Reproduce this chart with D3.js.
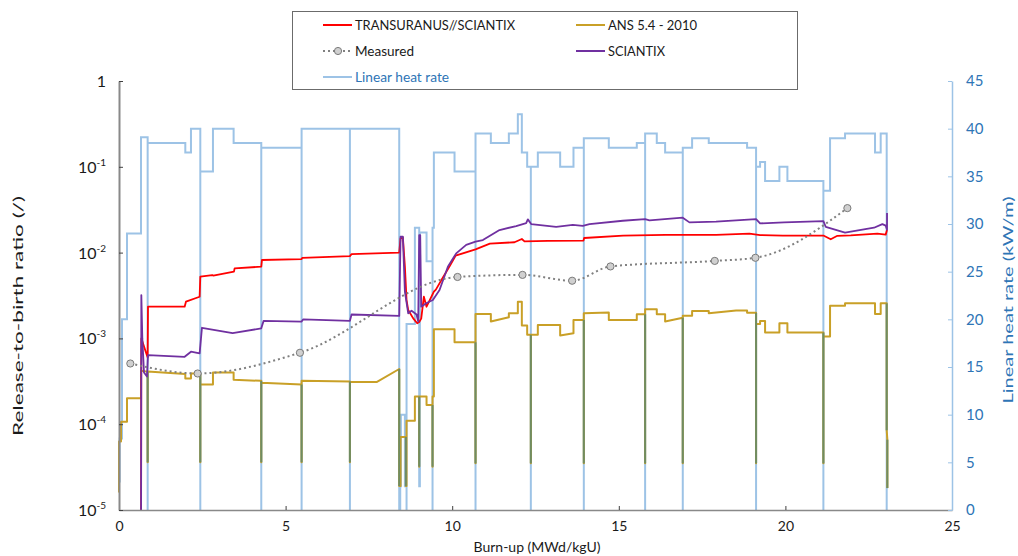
<!DOCTYPE html>
<html>
<head>
<meta charset="utf-8">
<script src="https://cdn.jsdelivr.net/npm/d3@7"></script>
<style>
  body { margin: 0; background: #fff; }
  svg { font-family: Lato, "Open Sans", sans-serif; }
</style>
</head>
<body>
<svg id="chart" width="1018" height="556"></svg>
<script>
// Linear heat rate history, step-after: [burn-up MWd/kgU, kW/m]
const heatRate = [
  [0, 3], [0.02, 7.5], [0.09, 20], [0.24, 29], [0.66, 39.1], [0.86, 0], [0.86, 38.5],
  [1.99, 37.5], [2.16, 40], [2.44, 0], [2.44, 35.5], [2.82, 40], [3.44, 38.5],
  [4.27, 0], [4.27, 38], [5.48, 0], [5.48, 40], [6.93, 0], [6.93, 40],
  [8.41, 0], [8.44, 10], [8.45, 2.5], [8.46, 10], [8.58, 2.5], [8.60, 10], [8.61, 2.5],
  [8.63, 0], [8.63, 19.5], [8.88, 29.6], [9.01, 2.5], [9.03, 29.1], [9.23, 26.1],
  [9.41, 0], [9.41, 29.6], [9.45, 37.5], [10.07, 35.5], [10.70, 0], [10.70, 39.5],
  [11.16, 38.5], [11.70, 39.5], [11.97, 41.5], [12.09, 37.5], [12.25, 36],
  [12.36, 0], [12.36, 36], [12.57, 37.5], [13.24, 36], [13.64, 38],
  [13.95, 0], [13.95, 39], [14.70, 38], [15.54, 38.5], [15.79, 0], [15.79, 39.5],
  [16.14, 38.5], [16.39, 37.5], [16.92, 0], [16.92, 38], [17.20, 39], [17.70, 38.5],
  [18.85, 38], [19.12, 0], [19.12, 36], [19.24, 36.5], [19.39, 34.5], [19.82, 36],
  [20.06, 34.5], [21.14, 0], [21.14, 33.5], [21.34, 39], [21.79, 39.5], [22.69, 37.5],
  [22.86, 39.5], [23.04, 0]
];

// ANS 5.4 - 2010 release-to-birth ratio
const ansRatio = [
  [0.00, 1.6e-5], [0.00, 6.3e-5], [0.06, 6.3e-5], [0.06, 1.07e-4], [0.24, 1.07e-4],
  [0.24, 2.0e-4], [0.66, 2.0e-4], [0.66, 4.2e-4], [0.86, 4.1e-4], [0.86, 3.6e-5],
  [0.86, 4.1e-4], [1.99, 3.85e-4], [1.99, 3.4e-4], [2.16, 3.4e-4], [2.16, 3.9e-4],
  [2.44, 3.9e-4], [2.44, 3.6e-5], [2.44, 2.9e-4], [2.82, 2.9e-4], [2.82, 4.0e-4],
  [3.44, 4.0e-4], [3.44, 3.3e-4], [4.27, 3.2e-4], [4.27, 3.6e-5], [4.27, 3.05e-4],
  [5.48, 2.9e-4], [5.48, 3.6e-5], [5.48, 3.2e-4], [6.93, 3.15e-4], [6.93, 3.6e-5],
  [6.93, 3.1e-4], [7.73, 3.1e-4], [8.41, 4.4e-4], [8.41, 1.9e-5], [8.45, 1.9e-5],
  [8.45, 7.1e-5], [8.61, 7.1e-5], [8.61, 1.9e-5], [8.63, 1.9e-5], [8.63, 1.1e-4],
  [8.88, 1.1e-4], [8.88, 2.1e-4], [9.01, 2.1e-4], [9.01, 3.2e-5], [9.01, 2.1e-4],
  [9.23, 2.1e-4], [9.23, 1.67e-4], [9.41, 1.67e-4], [9.41, 3.2e-5], [9.41, 2.1e-4],
  [9.45, 2.1e-4], [9.45, 1.28e-3], [10.07, 1.28e-3], [10.07, 9.0e-4], [10.70, 9.0e-4],
  [10.70, 3.5e-5], [10.70, 1.92e-3], [11.16, 1.92e-3], [11.16, 1.57e-3], [11.70, 1.76e-3],
  [11.70, 1.96e-3], [11.97, 1.96e-3], [11.97, 2.68e-3], [12.09, 2.68e-3], [12.09, 1.41e-3],
  [12.25, 1.41e-3], [12.25, 1.10e-3], [12.36, 1.10e-3], [12.36, 3.5e-5], [12.36, 1.10e-3],
  [12.57, 1.10e-3], [12.57, 1.43e-3], [13.24, 1.43e-3], [13.24, 1.08e-3], [13.64, 1.15e-3],
  [13.64, 1.64e-3], [13.95, 1.64e-3], [13.95, 3.5e-5], [13.95, 1.96e-3], [14.70, 2.0e-3],
  [14.70, 1.64e-3], [15.54, 1.64e-3], [15.54, 1.91e-3], [15.79, 1.91e-3], [15.79, 3.5e-5],
  [15.79, 2.18e-3], [16.14, 2.18e-3], [16.14, 1.91e-3], [16.39, 1.91e-3], [16.39, 1.57e-3],
  [16.92, 1.74e-3], [16.92, 3.5e-5], [16.92, 1.84e-3], [17.20, 1.84e-3], [17.20, 2.09e-3],
  [17.70, 2.09e-3], [17.70, 1.96e-3], [18.52, 2.12e-3], [18.85, 2.12e-3], [18.85, 1.99e-3],
  [19.12, 1.99e-3], [19.12, 3.5e-5], [19.12, 1.47e-3], [19.24, 1.47e-3], [19.24, 1.6e-3],
  [19.39, 1.6e-3], [19.39, 1.17e-3], [19.82, 1.17e-3], [19.82, 1.5e-3], [20.06, 1.5e-3],
  [20.06, 1.17e-3], [21.14, 1.17e-3], [21.14, 3.5e-5], [21.14, 1.05e-3], [21.34, 1.05e-3],
  [21.34, 2.4e-3], [21.79, 2.4e-3], [21.79, 2.56e-3], [22.69, 2.56e-3], [22.69, 1.92e-3],
  [22.86, 1.92e-3], [22.86, 2.56e-3], [23.04, 2.56e-3], [23.04, 8.5e-5], [23.06, 6.6e-5],
  [23.06, 1.8e-5]
];

// TRANSURANUS//SCIANTIX release-to-birth ratio
const tuScRatio = [
  [0.66, 1e-6], [0.67, 1.0e-3], [0.86, 6.0e-4], [0.87, 2.34e-3], [1.97, 2.34e-3],
  [2.01, 2.68e-3], [2.42, 3.06e-3], [2.44, 5.24e-3], [2.80, 5.47e-3], [2.83, 5.4e-3],
  [3.45, 6.0e-3], [3.47, 6.56e-3], [4.27, 6.85e-3], [4.29, 8.2e-3], [5.48, 8.4e-3],
  [5.50, 8.7e-3], [6.93, 9.1e-3], [6.98, 9.6e-3], [8.41, 1.0e-2], [8.45, 1.47e-2],
  [8.52, 1.5e-2], [8.58, 6.9e-3], [8.63, 2.8e-3], [8.68, 2.14e-3], [8.83, 1.71e-3],
  [8.95, 1.5e-3], [9.01, 1.55e-3], [9.07, 1.7e-3], [9.15, 3.06e-3], [9.23, 2.34e-3],
  [9.45, 3.5e-3], [9.51, 3.7e-3], [9.73, 5.2e-3], [9.93, 7.0e-3], [10.10, 9.2e-3],
  [10.70, 1.09e-2], [11.13, 1.27e-2], [11.87, 1.32e-2], [12.09, 1.44e-2], [12.17, 1.35e-2],
  [12.87, 1.37e-2], [13.94, 1.38e-2], [13.96, 1.48e-2], [15.13, 1.58e-2], [16.40, 1.61e-2],
  [17.92, 1.61e-2], [18.92, 1.66e-2], [19.24, 1.6e-2], [19.92, 1.58e-2], [21.14, 1.58e-2],
  [21.36, 1.43e-2], [21.56, 1.57e-2], [21.96, 1.59e-2], [22.76, 1.66e-2], [23.01, 1.62e-2],
  [23.05, 1.83e-2]
];

// SCIANTIX release-to-birth ratio
const sciantixRatio = [
  [0.66, 1e-6], [0.67, 3.2e-3], [0.70, 1.0e-3], [0.75, 4.0e-4], [0.84, 3.6e-4],
  [0.87, 6.4e-4], [1.97, 6.1e-4], [2.16, 7.0e-4], [2.42, 6.7e-4], [2.49, 1.33e-3],
  [3.41, 1.15e-3], [4.27, 1.31e-3], [4.34, 1.6e-3], [5.48, 1.57e-3], [5.53, 1.67e-3],
  [6.93, 1.6e-3], [6.98, 1.9e-3], [8.41, 1.83e-3], [8.45, 1.53e-2], [8.52, 1.53e-2],
  [8.58, 3.5e-3], [8.68, 1.96e-3], [8.78, 2.1e-3], [8.93, 1.9e-3], [8.98, 1.57e-3],
  [9.01, 1.6e-2], [9.04, 1.6e-2], [9.07, 2.34e-3], [9.22, 2.57e-3], [9.42, 2.8e-3],
  [9.62, 3.66e-3], [9.87, 6.85e-3], [10.12, 9.8e-3], [10.42, 1.23e-2], [10.70, 1.34e-2],
  [10.92, 1.4e-2], [11.42, 1.83e-2], [11.92, 2.04e-2], [12.22, 2.2e-2], [12.27, 2.44e-2],
  [12.37, 2.15e-2], [13.12, 2.0e-2], [13.62, 2.1e-2], [13.92, 2.05e-2], [14.12, 2.15e-2],
  [15.12, 2.35e-2], [15.79, 2.46e-2], [15.92, 2.38e-2], [16.92, 2.55e-2], [17.12, 2.25e-2],
  [17.92, 2.3e-2], [19.12, 2.46e-2], [19.24, 2.19e-2], [19.96, 2.25e-2], [21.14, 2.33e-2],
  [21.21, 2.0e-2], [21.79, 1.71e-2], [22.66, 1.95e-2], [22.91, 2.15e-2], [23.01, 2.06e-2],
  [23.05, 1.85e-2], [23.05, 2.9e-2]
];

// Measured release-to-birth ratio
const measured = [
  [0.34, 5.1e-4], [2.36, 3.9e-4], [5.43, 6.8e-4], [10.16, 5.2e-3], [12.11, 5.5e-3],
  [13.60, 4.7e-3], [14.75, 6.9e-3], [17.88, 8.0e-3], [19.10, 8.7e-3], [21.86, 3.3e-2]
];

const burnupTicks = [0, 5, 10, 15, 20, 25];
const ratioExponents = [0, -1, -2, -3, -4, -5];
const heatTicks = [0, 5, 10, 15, 20, 25, 30, 35, 40, 45];

const legendItems = [
  { label: "TRANSURANUS//SCIANTIX", key: "tu", col: 0, row: 0, len: 160 },
  { label: "ANS 5.4 - 2010", key: "ans", col: 1, row: 0, len: 89 },
  { label: "Measured", key: "meas", col: 0, row: 1, len: 59 },
  { label: "SCIANTIX", key: "sci", col: 1, row: 1, len: 57 },
  { label: "Linear heat rate", key: "heat", col: 0, row: 2, len: 94 }
];

const colors = {
  tu: "#ff0000", ans: "#c9a027", sci: "#7030a0", heat: "#9dc3e6",
  meas: "#808080", overlap: "#6f8c62", heatText: "#2e75b6", axis: "#898989", text: "#1a1a1a"
};

const svg = d3.select("#chart");
const L = 119, R = 952, T = 81, B = 510;

const x = d3.scaleLinear().domain([0, 25]).range([L, R]);
const y = d3.scaleLog().domain([1e-5, 1]).range([B, T]);
const y2 = d3.scaleLinear().domain([0, 45]).range([B, T]);

svg.append("defs").append("clipPath").attr("id", "plot")
  .append("rect").attr("x", L - 1).attr("y", T - 2).attr("width", R - L + 2).attr("height", B - T + 3);

const plot = svg.append("g").attr("clip-path", "url(#plot)");

// Linear heat rate (right axis)
plot.append("path").datum(heatRate)
  .attr("fill", "none").attr("stroke", colors.heat).attr("stroke-width", 2)
  .attr("d", d3.line().x(d => x(d[0])).y(d => y2(d[1])).curve(d3.curveStepAfter));

// ANS 5.4
const ratioLine = d3.line().x(d => x(d[0])).y(d => y(d[1]));
plot.append("path").datum(ansRatio)
  .attr("fill", "none").attr("stroke", colors.ans).attr("stroke-width", 2)
  .attr("stroke-linejoin", "round").attr("d", ratioLine);

// ANS drops at power shutdowns, where they run along the heat-rate drops
const drops = [];
for (let i = 1; i < ansRatio.length; i++) {
  const a = ansRatio[i - 1], b = ansRatio[i];
  if (a[0] === b[0] && b[1] < a[1] && b[1] < 1e-4) drops.push([a, b]);
}
plot.append("g").selectAll("line").data(drops).join("line")
  .attr("x1", d => x(d[0][0])).attr("x2", d => x(d[1][0]))
  .attr("y1", d => y(d[0][1])).attr("y2", d => y(d[1][1]))
  .attr("stroke", colors.overlap).attr("stroke-width", 2);

// TRANSURANUS//SCIANTIX and SCIANTIX
plot.append("path").datum(tuScRatio)
  .attr("fill", "none").attr("stroke", colors.tu).attr("stroke-width", 1.8)
  .attr("stroke-linejoin", "round").attr("d", ratioLine);
plot.append("path").datum(sciantixRatio)
  .attr("fill", "none").attr("stroke", colors.sci).attr("stroke-width", 1.8)
  .attr("stroke-linejoin", "round").attr("d", ratioLine);

// Measured
plot.append("path").datum(measured)
  .attr("fill", "none").attr("stroke", colors.meas).attr("stroke-width", 2)
  .attr("stroke-dasharray", "2,3")
  .attr("d", d3.line().x(d => x(d[0])).y(d => y(d[1])).curve(d3.curveMonotoneX));
plot.append("g").selectAll("circle").data(measured).join("circle")
  .attr("cx", d => x(d[0])).attr("cy", d => y(d[1])).attr("r", 3.6)
  .attr("fill", "#d0d0d0").attr("stroke", "#7a7a7a").attr("stroke-width", 1);

// Axes
const xAxis = svg.append("g").attr("transform", `translate(0,${B})`)
  .call(d3.axisBottom(x).tickValues(burnupTicks).tickSizeInner(-4).tickSizeOuter(0).tickPadding(11));
xAxis.select(".domain").attr("stroke", colors.axis).attr("stroke-width", 1.5);
xAxis.selectAll(".tick line").attr("stroke", "#404040");
xAxis.selectAll(".tick text").attr("font-size", 14).attr("fill", colors.text)
  .attr("font-family", "Lato, sans-serif");

const yAxis = svg.append("g").attr("transform", `translate(${L},0)`)
  .call(d3.axisLeft(y).tickValues(ratioExponents.map(e => Math.pow(10, e)))
    .tickSizeInner(-4).tickSizeOuter(0).tickFormat(""));
yAxis.select(".domain").attr("stroke", colors.axis).attr("stroke-width", 2);
yAxis.selectAll(".tick line").attr("stroke", "#404040");

const yLabels = svg.append("g").attr("font-size", 16).attr("fill", colors.text).attr("text-anchor", "end");
ratioExponents.forEach(e => {
  const t = yLabels.append("text").attr("x", 106).attr("y", y(Math.pow(10, e)) + 6);
  if (e === 0) {
    t.text("1");
  } else {
    t.append("tspan").text("10");
    t.append("tspan").attr("font-size", 10).attr("dy", -7).text(String(e));
  }
});

const y2Axis = svg.append("g").attr("transform", `translate(${R},0)`)
  .call(d3.axisRight(y2).tickValues(heatTicks).tickSizeInner(-4).tickSizeOuter(0).tickPadding(14));
y2Axis.select(".domain").attr("stroke", colors.heat).attr("stroke-width", 1.5);
y2Axis.selectAll(".tick line").attr("stroke", colors.heat);
y2Axis.selectAll(".tick text").attr("font-size", 15).attr("fill", colors.heatText)
  .attr("font-family", "Lato, sans-serif");

// Axis titles
svg.append("text").attr("x", 537).attr("y", 552).attr("text-anchor", "middle")
  .attr("font-size", 14).attr("fill", colors.text).text("Burn-up (MWd/kgU)");
svg.append("text").attr("transform", "translate(23,316) rotate(-90)").attr("text-anchor", "middle")
  .attr("font-size", 14).attr("fill", colors.text)
  .attr("textLength", 240).attr("lengthAdjust", "spacingAndGlyphs")
  .text("Release-to-birth ratio (/)");
svg.append("text").attr("transform", "translate(1013,300) rotate(-90)").attr("text-anchor", "middle")
  .attr("font-size", 14).attr("fill", colors.heatText)
  .attr("textLength", 207).attr("lengthAdjust", "spacingAndGlyphs")
  .text("Linear heat rate (kW/m)");

// Legend
const lg = svg.append("g");
lg.append("rect").attr("x", 292.5).attr("y", 11.5).attr("width", 505).attr("height", 78)
  .attr("fill", "#fff").attr("stroke", "#6b6b6b").attr("stroke-width", 1);
legendItems.forEach(it => {
  const lx = 323 + it.col * 253, ly = 25 + it.row * 26;
  const ln = lg.append("line").attr("x1", lx).attr("x2", lx + 29).attr("y1", ly).attr("y2", ly)
    .attr("stroke", colors[it.key]).attr("stroke-width", 2);
  if (it.key === "meas") {
    ln.attr("stroke-dasharray", "2,3");
    lg.append("circle").attr("cx", lx + 15).attr("cy", ly).attr("r", 3.6)
      .attr("fill", "#d0d0d0").attr("stroke", "#7a7a7a");
  }
  lg.append("text").attr("x", lx + 32).attr("y", ly + 5).attr("font-size", 14)
    .attr("textLength", it.len).attr("lengthAdjust", "spacingAndGlyphs")
    .attr("fill", it.key === "heat" ? colors.heatText : colors.text).text(it.label);
});
</script>
</body>
</html>
